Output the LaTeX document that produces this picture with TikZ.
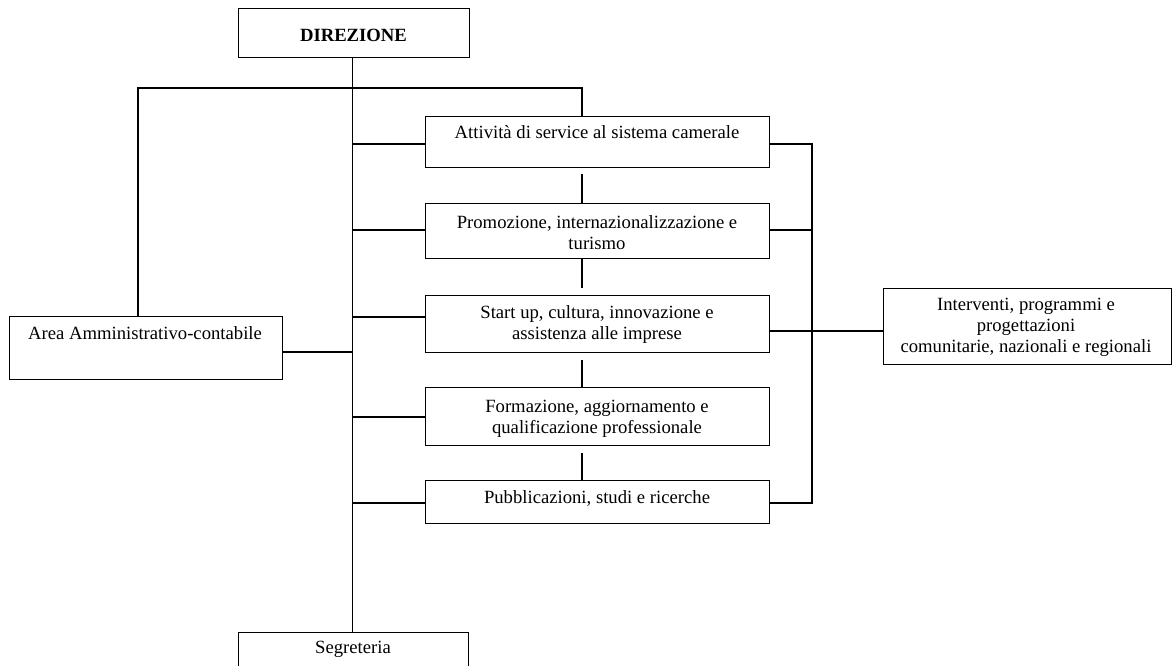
\documentclass[tikz,border=0pt]{standalone}
\usepackage{fontspec}
\setmainfont{Liberation Serif}
\usetikzlibrary{calc}
\begin{document}
\begin{tikzpicture}[x=0.75pt,y=-0.75pt,
  box/.style={draw, line width=0.8pt, inner sep=0pt, anchor=north west},
  txt/.style={align=center, inner sep=0pt, font=\fontsize{14pt}{15.8pt}\selectfont},
  conn/.style={line width=0.8pt}]
\useasboundingbox (0,0) rectangle (1172,665);
\clip (0,0) rectangle (1172,665);
% boxes
\node[box, minimum width=173.25pt, minimum height=36.75pt] (dir) at (238,8) {};
\node[box, minimum width=204.75pt, minimum height=47.25pt] (area) at (9,316) {};
\node[box, minimum width=258pt, minimum height=38.25pt] (b1) at (425,116) {};
\node[box, minimum width=258pt, minimum height=41.25pt] (b2) at (425,203) {};
\node[box, minimum width=258pt, minimum height=42.75pt] (b3) at (425,295) {};
\node[box, minimum width=258pt, minimum height=43.5pt] (b4) at (425,387) {};
\node[box, minimum width=258pt, minimum height=32.25pt] (b5) at (425,480) {};
\node[box, minimum width=216pt, minimum height=57pt] (rt) at (882.5,288) {};
\node[box, minimum width=172.5pt, minimum height=40pt] (seg) at (238,632) {};
% texts
\node[txt, font=\fontsize{14pt}{15.8pt}\selectfont\bfseries] (tdir) at (353.5,35) {DIREZIONE};
\node[txt] (tarea) at (145,333) {Area Amministrativo-contabile};
\node[txt] (t1) at (597,132) {Attività di service al sistema camerale};
\node[txt] (t2) at (597,232.5) {Promozione, internazionalizzazione e\\turismo};
\node[txt] (t3) at (597,324.5) {Start up, cultura, innovazione e\\assistenza alle imprese};
\node[txt] (t4) at (597,418.5) {Formazione, aggiornamento e\\qualificazione professionale};
\node[txt] (t5) at (597,498) {Pubblicazioni, studi e ricerche};
\node[txt] (trt) at (1026,327) {Interventi, programmi e\\progettazioni\\comunitarie, nazionali e regionali};
\node[txt] (tseg) at (353,649) {Segreteria};
% helper coordinates
\coordinate (tx) at (352.5,0);
\coordinate (vx) at (582,0);
\coordinate (rx) at (812,0);
\coordinate (lx) at (138,0);
\coordinate (ty) at (0,88);
% trunk
\draw[conn] (dir.south -| tx) -- (seg.north -| tx);
% top bus
\draw[conn] (area.north -| lx) -- (lx |- ty) -- (vx |- ty) -- (b1.north -| vx);
% area to trunk
\draw[conn] (area.east |- 0,352) -- (tx |- 0,352);
% trunk to boxes
\draw[conn] (tx |- 0,144) -- (b1.west |- 0,144);
\draw[conn] (tx |- 0,230) -- (b2.west |- 0,230);
\draw[conn] (tx |- 0,317) -- (b3.west |- 0,317);
\draw[conn] (tx |- 0,417) -- (b4.west |- 0,417);
\draw[conn] (tx |- 0,503) -- (b5.west |- 0,503);
% between boxes
\draw[conn] ($(b1.south -| vx)+(0,6)$) -- (b2.north -| vx);
\draw[conn] (b2.south -| vx) -- ($(b3.north -| vx)+(0,-7)$);
\draw[conn] ($(b3.south -| vx)+(0,7)$) -- (b4.north -| vx);
\draw[conn] ($(b4.south -| vx)+(0,7)$) -- (b5.north -| vx);
% right bus
\draw[conn] (b1.east |- 0,144) -- (rx |- 0,144) -- (rx |- 0,503) -- (b5.east |- 0,503);
\draw[conn] (b2.east |- 0,230) -- (rx |- 0,230);
\draw[conn] (b3.east |- 0,331) -- (rt.west |- 0,331);
\end{tikzpicture}
\end{document}
